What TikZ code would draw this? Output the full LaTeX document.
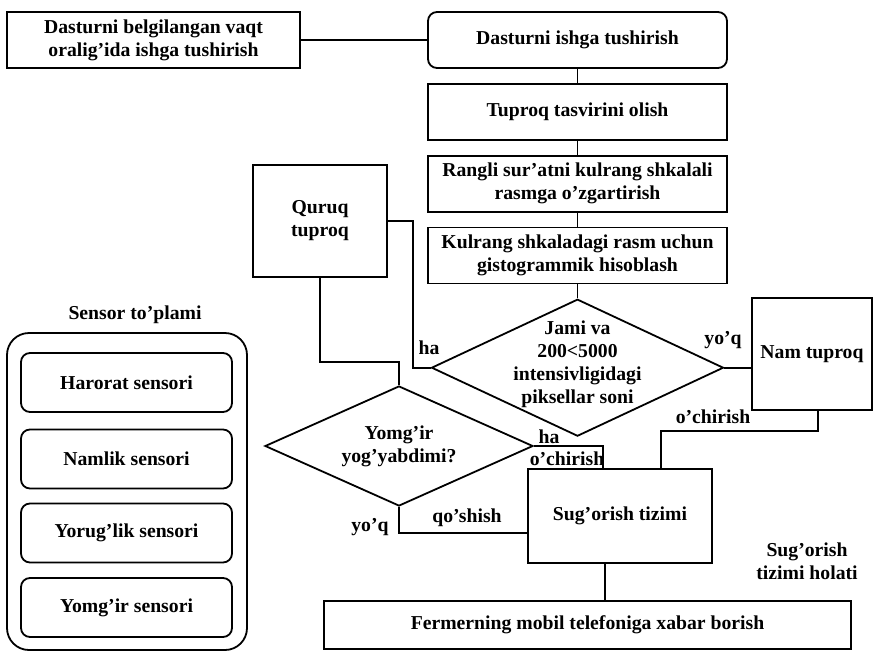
\documentclass[tikz,border=0pt]{standalone}
\usepackage{fontspec}
\setmainfont{Liberation Serif}
\usetikzlibrary{positioning,shapes.geometric,calc}
\newcommand{\flowfont}{\fontsize{19.7}{23}\selectfont\bfseries}
\tikzset{%
  pbox/.style  = { draw, line width = 1.8pt, align = center, font = \flowfont, inner sep = 2pt,
    minimum width = 299pt, minimum height = 56pt },
  rbox/.style  = { pbox, rounded corners = 9pt },
  sbox/.style  = { pbox, rounded corners = 9pt, minimum width = 211pt, minimum height = 59pt },
  gbox/.style  = { draw, line width = 1.8pt, rounded corners = 22pt, minimum width = 240pt, minimum height = 317pt },
  dbox/.style  = { draw, diamond, line width = 1.8pt, inner sep = 0pt },
  dtext/.style = { align = center, font = \flowfont, inner sep = 0pt },
  lbl/.style   = { align = center, font = \flowfont, inner sep = 1pt },
  line/.style  = { line width = 1.8pt },
}

\begin{document}
\begin{tikzpicture}[x=1pt,y=-1pt]
    \useasboundingbox (0,0) rectangle (874,653);
    % nodes ----------------------------------------------------------------------------------------
    % main column
    \node(start) [rbox] at (577.5,40)         {Dasturni ishga tushirish};
    \node(timer) [pbox, minimum width = 293pt] at (153.5,40) {Dasturni belgilangan vaqt\\oralig’ida ishga tushirish};
    \node(image) [pbox, below = 14pt of start] {Tuproq tasvirini olish};
    \node(gray)  [pbox, below = 14pt of image] {Rangli sur’atni kulrang shkalali\\rasmga o’zgartirish};
    \node(hist)  [pbox, below = 14pt of gray]  {Kulrang shkaladagi rasm uchun\\gistogrammik hisoblash};
    \node(count) [dbox, minimum width = 292pt, minimum height = 137pt, below = 14pt of hist,
      label = {[dtext, yshift = 3pt]center:{Jami va\\200<5000\\intensivligidagi\\piksellar soni}}] {};
    % soil states
    \node(dry)   [pbox, minimum width = 134pt, minimum height = 112pt] at (320,221) {Quruq\\tuproq};
    \node(wet)   [pbox, minimum width = 120pt, minimum height = 112pt] at (812,354) {Nam tuproq};
    % rain check and irrigation
    \node(rain)  [dbox, minimum width = 268pt, minimum height = 120pt,
      label = {[dtext]center:{Yomg’ir\\yog’yabdimi?}}] at (399,446) {};
    \node(irrig) [pbox, minimum width = 184pt, minimum height = 94pt] at (620,516) {Sug’orish tizimi};
    \node(phone) [pbox, minimum width = 527pt, minimum height = 48pt] at (587.5,625) {Fermerning mobil telefoniga xabar borish};
    \node(state) [lbl] at (807,561) {Sug’orish\\tizimi holati};
    % sensor group
    \node(group) [gbox] at (127,491.5) {};
    \node(gtitle) [lbl] at (135,315) {Sensor to’plami};
    \node(temp)  [sbox] at (126.5,382.5) {Harorat sensori};
    \node(humid) [sbox] at (126.5,459)   {Namlik sensori};
    \node(light) [sbox] at (126.5,533)   {Yorug’lik sensori};
    \node(rainy) [sbox] at (126.5,607.5) {Yomg’ir sensori};
    % lines ----------------------------------------------------------------------------------------
    \draw[line] (timer) -- (start);
    \draw[line] (start) -- (image);
    \draw[line] (image) -- (gray);
    \draw[line] (gray)  -- (hist);
    \draw[line] (hist)  -- (count);
    % histogram result
    \draw[line] (count.west) -- ++(-18,0) |- (dry.east);
    \draw[line] (count.east) -- (count.east -| wet.west);
    % dry soil to rain check
    \draw[line] (dry.south) -- ++(0,84) -| (rain.north);
    % rain check to irrigation
    \draw[line] (rain.east)  -| ([xshift=-17pt]irrig.north);
    \draw[line] (rain.south) |- ([yshift=-17pt]irrig.west);
    % wet soil to irrigation
    \draw[line] ([xshift=6pt]wet.south) -- ++(0,20) -| ([xshift=41pt]irrig.north);
    % irrigation to phone
    \draw[line] ([xshift=-15pt]irrig.south) -- ([xshift=-15pt]irrig.south |- phone.north);
    % labels ---------------------------------------------------------------------------------------
    \node(ha1)  [lbl] at (429,348) {ha};
    \node(no1)  [lbl] at (723,340) {yo’q};
    \node(ha2)  [lbl] at (549,437) {ha};
    \node(off1) [lbl] at (567,459) {o’chirish};
    \node(no2)  [lbl] at (370,527) {yo’q};
    \node(add)  [lbl] at (467,518) {qo’shish};
    \node(off2) [lbl] at (713,417) {o’chirish};
\end{tikzpicture}
\end{document}
